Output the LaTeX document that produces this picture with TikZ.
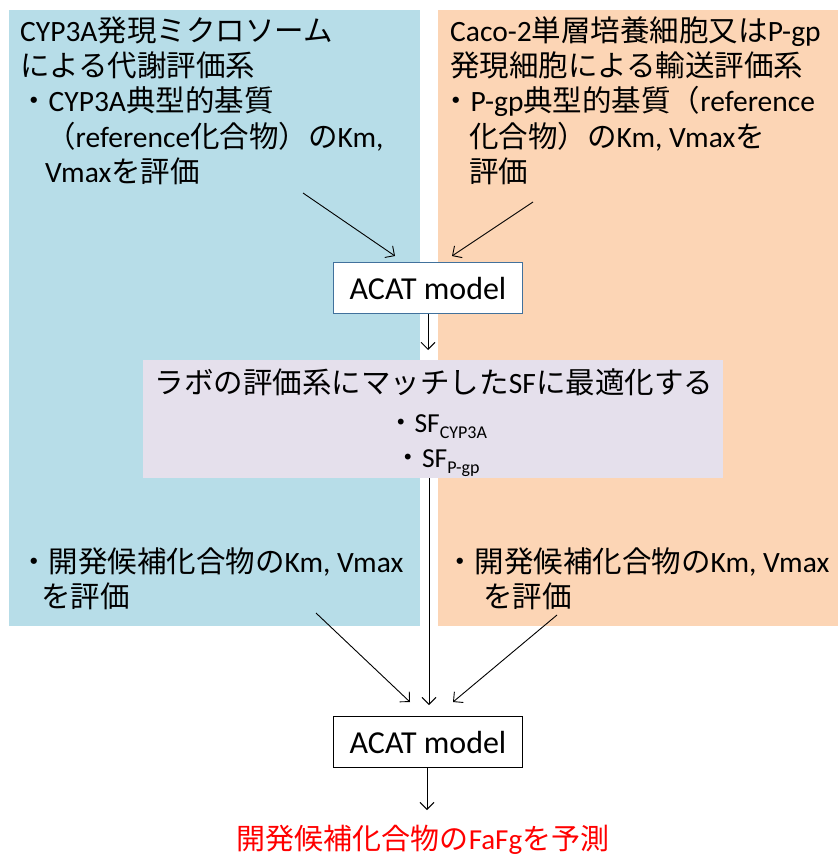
\documentclass[tikz,border=0pt]{standalone}
\usepackage{fontspec}
\setmainfont{Carlito}
\newfontfamily\cjk{Noto Sans CJK JP}
\newcommand\J[1]{{\cjk #1}}
\newcommand\subtxt[1]{\raisebox{-0.22em}{\fontsize{18}{18}\selectfont #1}}
\usetikzlibrary{arrows.meta}
\definecolor{pblue}{HTML}{B7DDE8}
\definecolor{porange}{HTML}{FCD5B5}
\definecolor{ppurple}{HTML}{E5E0EC}
\definecolor{bborder}{HTML}{41719C}
\begin{document}
\begin{tikzpicture}[x=1pt,y=-1pt,
  txt/.style={inner sep=0pt,anchor=base west,font=\fontsize{29.5}{35}\selectfont},
  ctxt/.style={inner sep=0pt,anchor=base,font=\fontsize{29.5}{35}\selectfont},
  subline/.style={inner sep=0pt,anchor=base,font=\fontsize{27.5}{30}\selectfont},
  acatbox/.style={draw,line width=1pt,fill=white,minimum width=189pt,minimum height=51pt,inner sep=0pt,anchor=north west,font=\fontsize{32}{37}\selectfont},
  arr/.style={line width=0.9pt,-{Straight Barb[length=7pt,width=14pt]}}]
\useasboundingbox (0,0) rectangle (838,856);
% panels
\fill[pblue] (9,10) rectangle (420,626);
\fill[porange] (438,10) rectangle (838,626);
% left panel texts
\node[txt] (l1) at (20,42) {CYP3A\J{発現ミクロソーム}};
\node[txt] (l2) at (20,77) {\J{による代謝評価系}};
\node[txt] (l3) at (19,112) {\J{・}CYP3A\J{典型的基質}};
\node[txt] (l4) at (46,147) {\J{（}reference\J{化合物）の}Km,};
\node[txt] (l5) at (45,182) {Vmax\J{を評価}};
% right panel texts
\node[txt] (r1) at (450,42) {Caco-2\J{単層培養細胞又は}P-gp};
\node[txt] (r2) at (450,77) {\J{発現細胞による輸送評価系}};
\node[txt] (r3) at (441,112) {\J{・}P-gp\J{典型的基質（}reference};
\node[txt] (r4) at (469,147) {\J{化合物）の}Km, Vmax\J{を}};
\node[txt] (r5) at (469,182) {\J{評価}};
% top ACAT
\node[acatbox,draw=bborder] (acat1) at (333,262) {ACAT model};
% purple box
\fill[ppurple] (143,360) rectangle (723,478);
\node[inner sep=0pt,minimum width=580pt,minimum height=118pt,anchor=north west] (sf) at (143,360) {};
\node[ctxt] (sft) at (434,393) {\J{ラボの評価系にマッチした}SF\J{に最適化する}};
\node[subline] (sf1) at (437,432) {\J{・}SF\subtxt{CYP3A}};
\node[subline] (sf2) at (437,467) {\J{・}SF\subtxt{P-gp}};
% lower bullet texts
\node[txt] (lb1) at (19,572) {\J{・開発候補化合物の}Km, Vmax};
\node[txt] (lb2) at (41,607) {\J{を評価}};
\node[txt] (rb1) at (445,572) {\J{・開発候補化合物の}Km, Vmax};
\node[txt] (rb2) at (483,607) {\J{を評価}};
% bottom ACAT
\node[acatbox,draw=black] (acat2) at (333,716) {ACAT model};
% result
\node[ctxt,font=\fontsize{29}{32}\selectfont,text=red] (res) at (423,849) {\J{開発候補化合物の}FaFg\J{を予測}};
% connector coordinates
\coordinate (sl) at (303,193);
\coordinate (sr) at (533,202);
\coordinate (tl) at (395,256);
\coordinate (tr) at (452,256);
\coordinate (m1) at (428,350);
\coordinate (blS) at (316,613);
\coordinate (brS) at (557,615);
\coordinate (blE) at (410,702);
\coordinate (brE) at (453,702);
\coordinate (cE) at (429,705);
\coordinate (dE) at (427,810);
% arrows
\draw[arr] (sl) -- (tl);
\draw[arr] (sr) -- (tr);
\draw[arr] (acat1.south -| m1) -- (m1);
\draw[arr] (sf.south -| cE) -- (cE);
\draw[arr] (blS) -- (blE);
\draw[arr] (brS) -- (brE);
\draw[arr] (acat2.south -| dE) -- (dE);
\end{tikzpicture}
\end{document}
